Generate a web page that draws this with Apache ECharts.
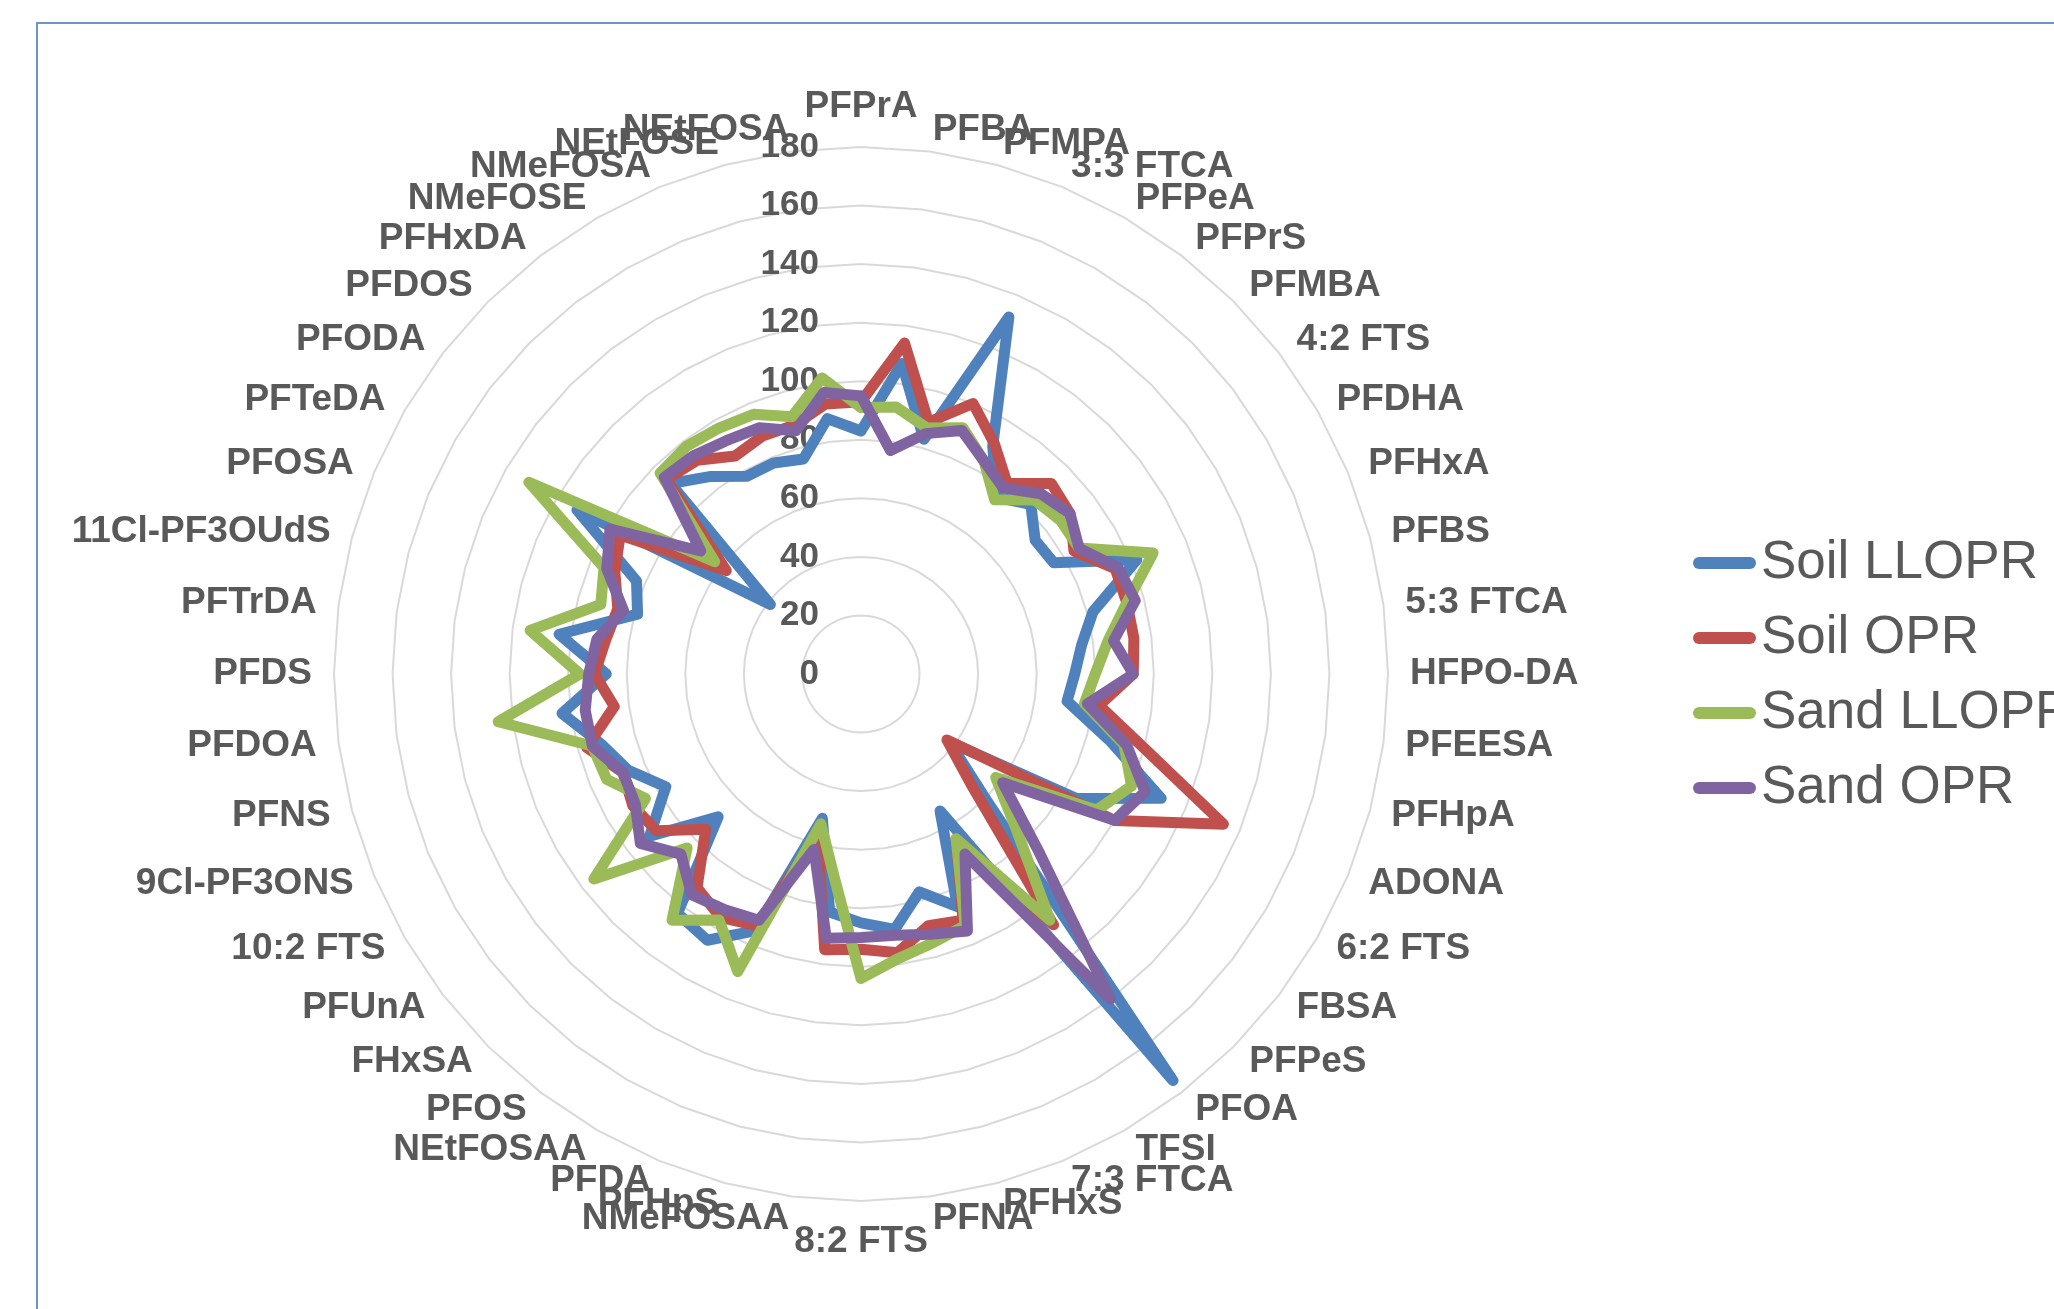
<!DOCTYPE html>
<html>
<head>
<meta charset="utf-8">
<title>PFAS recovery radar</title>
<script src="https://cdn.jsdelivr.net/npm/echarts@6/dist/echarts.min.js"></script>
<style>
html, body { margin: 0; padding: 0; background: #fff; }
#chart { width: 2054px; height: 1309px; }
</style>
</head>
<body>
<div id="chart"></div>
<script>
// categories clockwise from the top, like the excel chart
var categories = ['PFPrA', 'PFBA', 'PFMPA', '3:3 FTCA', 'PFPeA', 'PFPrS', 'PFMBA', '4:2 FTS', 'PFDHA', 'PFHxA',
    'PFBS', '5:3 FTCA', 'HFPO-DA', 'PFEESA', 'PFHpA', 'ADONA', '6:2 FTS', 'FBSA', 'PFPeS', 'PFOA',
    'TFSI', '7:3 FTCA', 'PFHxS', 'PFNA', '8:2 FTS', 'NMeFOSAA', 'PFHpS', 'PFDA', 'NEtFOSAA', 'PFOS',
    'FHxSA', 'PFUnA', '10:2 FTS', '9Cl-PF3ONS', 'PFNS', 'PFDOA', 'PFDS', 'PFTrDA', '11Cl-PF3OUdS', 'PFOSA',
    'PFTeDA', 'PFODA', 'PFDOS', 'PFHxDA', 'NMeFOSE', 'NMeFOSA', 'NEtFOSE', 'NEtFOSA'];

var soilLLOPR = [83, 107, 83, 132, 90, 76, 82, 75, 76, 102, 82, 76, 73, 71, 88, 111, 85, 38, 60, 175,
    54, 86, 77, 88, 85, 82, 51, 95, 105, 103, 69, 91, 77, 86, 92, 103, 87, 104, 79, 83,
    112, 39, 92, 85, 78, 78, 76, 88];
var soilOPR = [93, 114, 89, 100, 91, 82, 92, 90, 84, 94, 94, 94, 93, 82, 101, 134, 100, 37, 53, 108,
    65, 91, 89, 96, 94, 95, 57, 93, 96, 92, 75, 88, 90, 88, 97, 85, 91, 88, 86, 91,
    95, 58, 94, 92, 86, 88, 88, 93];
var sandLLOPR = [91, 92, 87, 91, 84, 75, 84, 86, 86, 108, 94, 85, 80, 77, 93, 100, 93, 58, 75, 106,
    65, 93, 95, 98, 104, 70, 53, 110, 97, 106, 84, 115, 85, 94, 95, 125, 96, 114, 92, 95,
    131, 63, 97, 98, 97, 96, 91, 102];
var sandOPR = [95, 77, 85, 90, 84, 80, 87, 90, 86, 95, 97, 87, 93, 78, 94, 105, 100, 61, 86, 140,
    71, 95, 92, 90, 90, 91, 62, 91, 93, 95, 87, 95, 89, 88, 95, 95, 93, 91, 84, 94,
    99, 69, 95, 94, 92, 91, 86, 97];

var seriesNames = ['Soil LLOPR', 'Soil OPR', 'Sand LLOPR', 'Sand OPR'];
var seriesValues = [soilLLOPR, soilOPR, sandLLOPR, sandOPR];
var colors = ['#4f81bd', '#c0504d', '#9bbb59', '#8064a2'];
var axisMax = 180;

var font = 'Liberation Sans, Arial, sans-serif';

// echarts radar runs counter-clockwise, so flip the order (keep first one on top)
var order = [0];
for (var i = categories.length - 1; i > 0; i--) {
    order.push(i);
}
function reorder(arr) {
    return order.map(function (k) { return arr[k]; });
}

var indicators = reorder(categories).map(function (name, idx) {
    var ind = { name: name, min: 0, max: axisMax };
    if (idx === 0) {
        // only the vertical axis gets the value labels
        ind.axisLabel = {
            show: true,
            margin: 42,
            color: '#595959',
            fontSize: 35,
            fontWeight: 'bold',
            fontFamily: font
        };
    }
    return ind;
});

var series = seriesNames.map(function (name, idx) {
    return {
        name: name,
        type: 'radar',
        symbol: 'none',
        lineStyle: { color: colors[idx], width: 11, join: 'round', cap: 'round' },
        itemStyle: { color: colors[idx] },
        data: [{ name: name, value: reorder(seriesValues[idx]) }]
    };
});

var chart = echarts.init(document.getElementById('chart'));
chart.setOption({
    animation: false,
    backgroundColor: '#ffffff',
    graphic: [
        {
            type: 'rect',
            shape: { x: 37, y: 23, width: 3000, height: 3000 },
            style: { fill: 'none', stroke: '#6f93cd', lineWidth: 2 },
            silent: true
        }
    ],
    legend: {
        orient: 'vertical',
        left: 1688,
        top: 528,
        itemWidth: 63,
        itemHeight: 12,
        itemGap: 15,
        icon: 'path://M6,0 L57,0 A6,6 0 0 1 57,12 L6,12 A6,6 0 0 1 6,0 Z',
        textStyle: { color: '#595959', fontSize: 53, fontFamily: font, lineHeight: 60 },
        data: seriesNames
    },
    radar: {
        center: [861, 674],
        radius: 527,
        startAngle: 90,
        shape: 'polygon',
        splitNumber: 9,
        nameGap: 22,
        indicator: indicators,
        axisName: {
            color: '#595959',
            fontSize: 37,
            fontWeight: 'bold',
            fontFamily: font
        },
        axisLine: { show: false },
        axisTick: { show: false },
        axisLabel: { show: false },
        splitLine: { lineStyle: { color: '#d9d9d9', width: 2 } },
        splitArea: { show: false }
    },
    series: series
});
</script>
</body>
</html>
